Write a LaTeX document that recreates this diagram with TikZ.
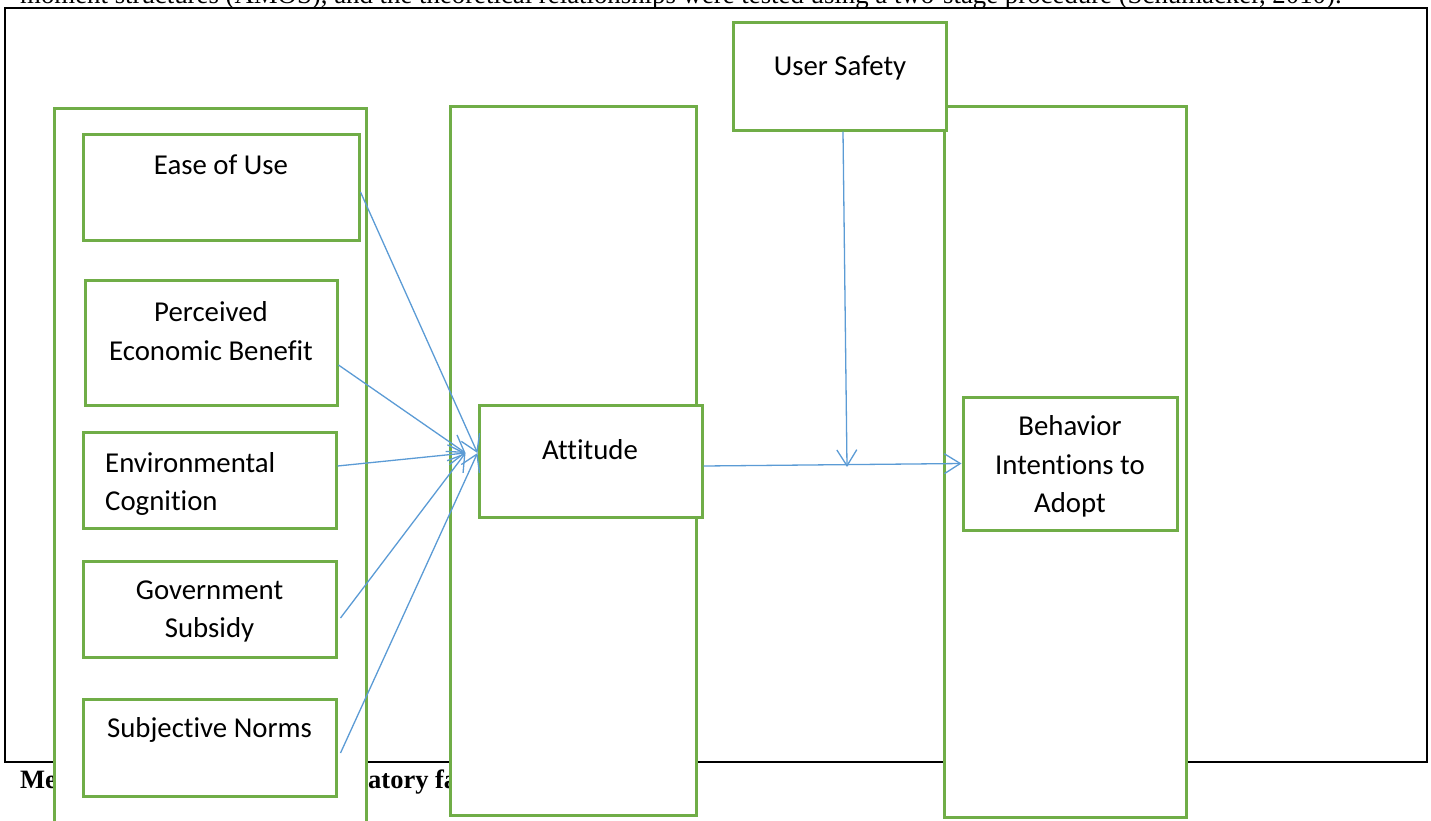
\documentclass[tikz,border=0pt]{standalone}
\usepackage{fontspec}
\usepackage{xcolor}
\usetikzlibrary{arrows.meta, positioning}
\newfontfamily\calibri[Ligatures=NoCommon]{Carlito}
\newfontfamily\timesf{Liberation Serif}
\definecolor{boxgreen}{HTML}{70AD47}
\definecolor{arrowblue}{HTML}{5B9BD5}

\begin{document}
\begin{tikzpicture}[x=1pt, y=-1pt, >={Straight Barb[length=16pt, width=20pt]},
    gbox/.style={draw=boxgreen, line width=3pt, fill=white, inner sep=0pt},
    lbl/.style={font={\calibri\fontsize{28.8}{38.5}\selectfont}, align=center, inner sep=0pt},
    bodytxt/.style={font={\timesf\fontsize{26.8}{30}\selectfont}, inner sep=0pt, anchor=base west},
    link/.style={draw=arrowblue, line width=1.3pt, ->}]
    \useasboundingbox (0,0) rectangle (1431,820);
    \clip (0,0) rectangle (1431,820);

    % page text round the figure
    \node[bodytxt] (para) at (20, 3) {moment structures (AMOS), and the theoretical relationships were tested using a two-stage procedure  (Schumacker, 2010).};
    \draw[line width=2pt] (5, 8) rectangle (1427, 762);
    \node[bodytxt, font={\timesf\bfseries\fontsize{26.5}{30}\selectfont}] (capa) at (20, 788) {Me};
    \node[bodytxt, font={\timesf\bfseries\fontsize{26.5}{30}\selectfont}] (capb) at (368, 788) {atory fa};

    % columns
    \node[gbox, minimum width=312, minimum height=732] (colL) at (210, 474) {};
    \node[gbox, minimum width=246, minimum height=709] (colM) at (573, 460.5) {};
    \node[gbox, minimum width=242, minimum height=711] (colR) at (1065, 461.5) {};

    % boxes
    \node[gbox, minimum width=276, minimum height=106] (ease) at (221, 187) {};
    \node[gbox, minimum width=252, minimum height=125] (pben) at (211, 342.5) {};
    \node[gbox, minimum width=253, minimum height=96] (envc) at (209.5, 480) {};
    \node[gbox, minimum width=253, minimum height=96] (govs) at (209.5, 609) {};
    \node[gbox, minimum width=253, minimum height=97] (subn) at (209.5, 747.5) {};
    \node[gbox, minimum width=223, minimum height=112] (att) at (590.5, 461) {};
    \node[gbox, minimum width=213, minimum height=108] (usaf) at (839.5, 76) {};
    \node[gbox, minimum width=214, minimum height=133] (bint) at (1070, 463.5) {};

    % labels
    \node[lbl, anchor=base] (ease-t) at (221, 174) {Ease of Use};
    \node[lbl] (pben-t) at (211, 331) {Perceived\\Economic Benefit};
    \node[lbl, align=left, anchor=west] (envc-t) at (105, 484) {Environmental\\Cognition};
    \node[lbl] (govs-t) at (209.5, 611.5) {Government\\Subsidy};
    \node[lbl, anchor=base] (subn-t) at (209.5, 737) {Subjective Norms};
    \node[lbl, anchor=base] (att-t) at (590, 459) {Attitude};
    \node[lbl, anchor=base] (usaf-t) at (840, 75) {User Safety};
    \node[lbl] (bint-t) at (1070, 466.5) {Behavior\\Intentions to\\Adopt};

    \coordinate (attin) at ([xshift=-12, yshift=8]att.west);
    \coordinate (attedge) at ([yshift=8]att.west);
    \coordinate (join) at (847, 467);

    \draw[link] ([yshift=-5]ease.east) -- (attedge);
    \draw[link] ([yshift=-22.5]pben.east) -- (attin);
    \draw[link] ([yshift=14]envc.east) -- (attin);
    \draw[link] ([xshift=3, yshift=-9]govs.east) -- (attin);
    \draw[link] ([xshift=3, yshift=-5.5]subn.east) -- (attedge);

    \draw[link] ([yshift=-5]att.east) -- (bint.west);
    \draw[link] ([xshift=3.5]usaf.south) -- (join);
\end{tikzpicture}
\end{document}
